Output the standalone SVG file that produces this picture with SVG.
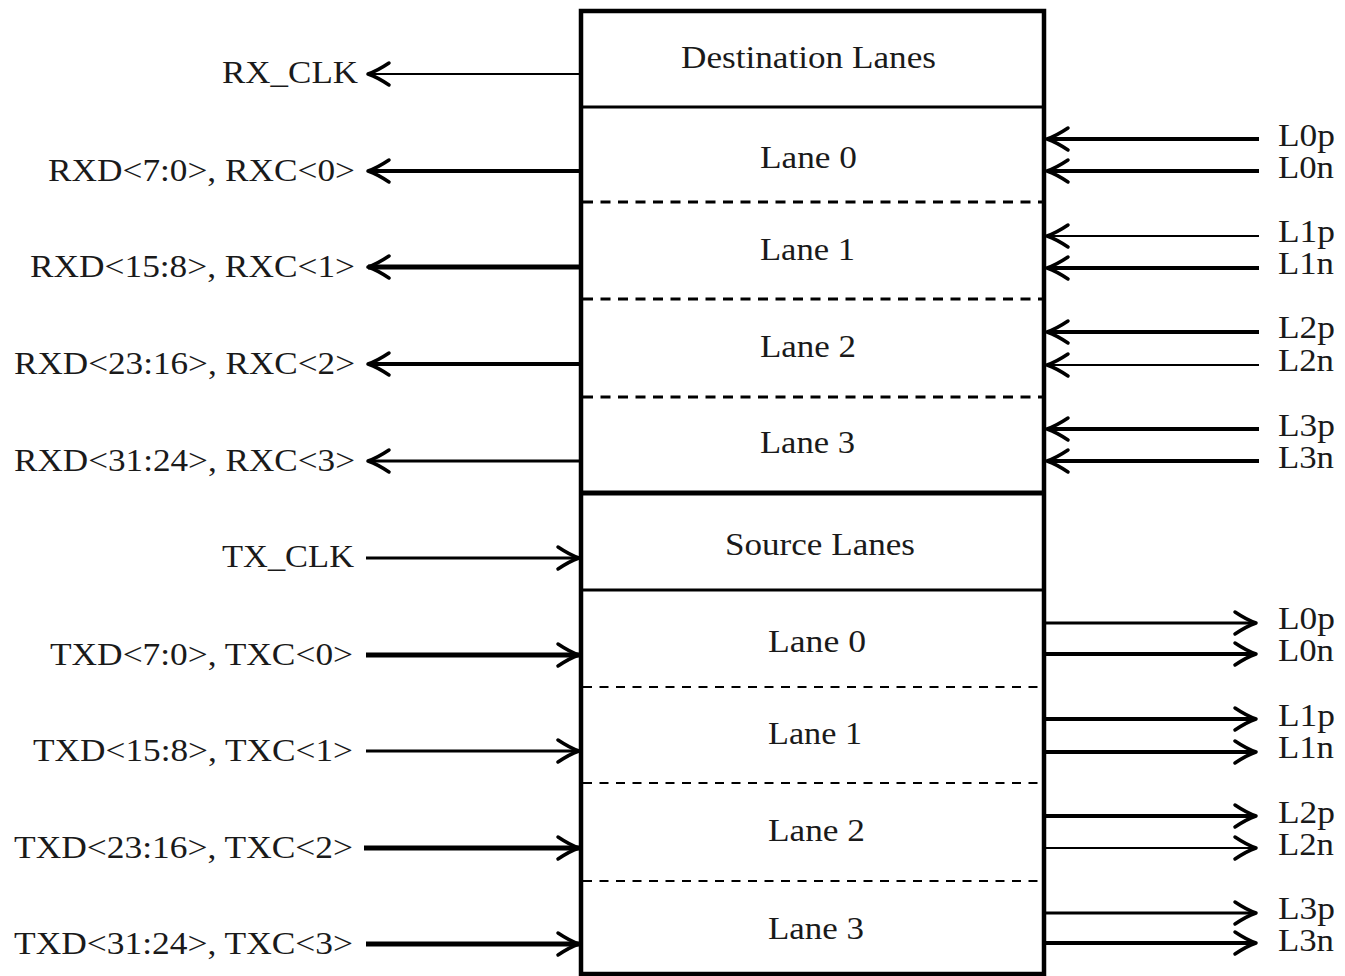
<svg xmlns="http://www.w3.org/2000/svg" width="1345" height="976" viewBox="0 0 1345 976">
  <style>
    text { font-family: "Liberation Serif", "Times New Roman", serif; font-size: 31px; fill: #1a1a1a; }
    .frame { fill: none; stroke: #000; stroke-width: 4.5; }
    .rule { stroke: #000; stroke-width: 3; }
    .rule-heavy { stroke: #000; stroke-width: 5; }
    .dash-dst { stroke: #000; stroke-width: 3; stroke-dasharray: 10 7.5; }
    .dash-src { stroke: #000; stroke-width: 2.2; stroke-dasharray: 9 7.5; }
    .wire { stroke: #000; fill: none; marker-end: url(#chevron); }
    .w2 { stroke-width: 2; }
    .w3 { stroke-width: 3; }
    .w4 { stroke-width: 4; }
    .w5 { stroke-width: 5; }
  </style>
  <defs>
    <marker id="chevron" markerUnits="userSpaceOnUse" markerWidth="30" markerHeight="30" viewBox="-26 -14 30 28" refX="0" refY="0" orient="auto">
      <path d="M-21,-11 Q-9,-3 0,0 Q-9,3 -21,11" fill="none" stroke="#000" stroke-width="3.5" stroke-linecap="round" stroke-linejoin="round"/>
    </marker>
  </defs>
  <rect width="1345" height="976" fill="#fff"/>

  <!-- receive side: destination lanes -->
  <g id="destination-block">
    <line class="rule" x1="581" y1="107" x2="1044" y2="107"/>
    <line class="dash-dst" x1="583" y1="202" x2="1042" y2="202"/>
    <line class="dash-dst" x1="583" y1="299" x2="1042" y2="299"/>
    <line class="dash-dst" x1="583" y1="397" x2="1042" y2="397"/>
    <text x="681" y="68" textLength="255" lengthAdjust="spacingAndGlyphs">Destination Lanes</text>
    <text x="760" y="168" textLength="97" lengthAdjust="spacingAndGlyphs">Lane 0</text>
    <text x="760" y="260" textLength="95" lengthAdjust="spacingAndGlyphs">Lane 1</text>
    <text x="760" y="357" textLength="96" lengthAdjust="spacingAndGlyphs">Lane 2</text>
    <text x="760" y="453" textLength="95" lengthAdjust="spacingAndGlyphs">Lane 3</text>
  </g>

  <!-- transmit side: source lanes -->
  <g id="source-block">
    <line class="rule-heavy" x1="581" y1="493" x2="1044" y2="493"/>
    <line class="rule" x1="581" y1="590" x2="1044" y2="590"/>
    <line class="dash-src" x1="583" y1="687" x2="1042" y2="687"/>
    <line class="dash-src" x1="583" y1="783" x2="1042" y2="783"/>
    <line class="dash-src" x1="583" y1="881" x2="1042" y2="881"/>
    <text x="725" y="555" textLength="190" lengthAdjust="spacingAndGlyphs">Source Lanes</text>
    <text x="768" y="652" textLength="98" lengthAdjust="spacingAndGlyphs">Lane 0</text>
    <text x="768" y="744" textLength="94" lengthAdjust="spacingAndGlyphs">Lane 1</text>
    <text x="768" y="841" textLength="97" lengthAdjust="spacingAndGlyphs">Lane 2</text>
    <text x="768" y="939" textLength="96" lengthAdjust="spacingAndGlyphs">Lane 3</text>
  </g>

  <!-- outer frame of the lane block -->
  <g id="lane-frame">
    <rect class="frame" x="581" y="11" width="463" height="963"/>
  </g>

  <!-- signal wires -->
  <g id="connectors">
    <!-- receive outputs, left -->
    <line class="wire w2" x1="579" y1="74" x2="368" y2="74"/>
    <line class="wire w4" x1="579" y1="171" x2="368" y2="171"/>
    <line class="wire w5" x1="579" y1="267" x2="368" y2="267"/>
    <line class="wire w4" x1="579" y1="364" x2="368" y2="364"/>
    <line class="wire w3" x1="579" y1="461" x2="368" y2="461"/>
    <!-- transmit inputs, left -->
    <line class="wire w3" x1="366" y1="558" x2="579" y2="558"/>
    <line class="wire w5" x1="366" y1="655" x2="579" y2="655"/>
    <line class="wire w3" x1="366" y1="751" x2="579" y2="751"/>
    <line class="wire w5" x1="364" y1="848" x2="579" y2="848"/>
    <line class="wire w5" x1="366" y1="944" x2="579" y2="944"/>
    <!-- serial inputs, right -->
    <line class="wire w4" x1="1259" y1="139" x2="1047" y2="139"/>
    <line class="wire w4" x1="1259" y1="171" x2="1047" y2="171"/>
    <line class="wire w2" x1="1259" y1="236" x2="1047" y2="236"/>
    <line class="wire w4" x1="1259" y1="268" x2="1047" y2="268"/>
    <line class="wire w4" x1="1259" y1="332" x2="1047" y2="332"/>
    <line class="wire w2" x1="1259" y1="365" x2="1047" y2="365"/>
    <line class="wire w4" x1="1259" y1="429" x2="1047" y2="429"/>
    <line class="wire w4" x1="1259" y1="461" x2="1047" y2="461"/>
    <!-- serial outputs, right -->
    <line class="wire w3" x1="1046" y1="623" x2="1256" y2="623"/>
    <line class="wire w4" x1="1046" y1="654" x2="1256" y2="654"/>
    <line class="wire w4" x1="1046" y1="719" x2="1256" y2="719"/>
    <line class="wire w4" x1="1046" y1="752" x2="1256" y2="752"/>
    <line class="wire w4" x1="1046" y1="816" x2="1256" y2="816"/>
    <line class="wire w2" x1="1046" y1="848" x2="1256" y2="848"/>
    <line class="wire w3" x1="1046" y1="913" x2="1256" y2="913"/>
    <line class="wire w4" x1="1046" y1="943" x2="1256" y2="943"/>
  </g>

  <!-- parallel interface names -->
  <g id="parallel-ports">
    <text x="222" y="83" textLength="136" lengthAdjust="spacingAndGlyphs">RX_CLK</text>
    <text x="48" y="181" textLength="307" lengthAdjust="spacingAndGlyphs">RXD&lt;7:0&gt;, RXC&lt;0&gt;</text>
    <text x="30" y="277" textLength="325" lengthAdjust="spacingAndGlyphs">RXD&lt;15:8&gt;, RXC&lt;1&gt;</text>
    <text x="14" y="374" textLength="341" lengthAdjust="spacingAndGlyphs">RXD&lt;23:16&gt;, RXC&lt;2&gt;</text>
    <text x="14" y="471" textLength="341" lengthAdjust="spacingAndGlyphs">RXD&lt;31:24&gt;, RXC&lt;3&gt;</text>
    <text x="222" y="567" textLength="132" lengthAdjust="spacingAndGlyphs">TX_CLK</text>
    <text x="50" y="665" textLength="303" lengthAdjust="spacingAndGlyphs">TXD&lt;7:0&gt;, TXC&lt;0&gt;</text>
    <text x="33" y="761" textLength="320" lengthAdjust="spacingAndGlyphs">TXD&lt;15:8&gt;, TXC&lt;1&gt;</text>
    <text x="14" y="858" textLength="339" lengthAdjust="spacingAndGlyphs">TXD&lt;23:16&gt;, TXC&lt;2&gt;</text>
    <text x="14" y="954" textLength="339" lengthAdjust="spacingAndGlyphs">TXD&lt;31:24&gt;, TXC&lt;3&gt;</text>
  </g>

  <!-- serial pin names -->
  <g id="serial-pins">
    <text x="1278" y="146" textLength="57" lengthAdjust="spacingAndGlyphs">L0p</text>
    <text x="1278" y="178" textLength="56" lengthAdjust="spacingAndGlyphs">L0n</text>
    <text x="1278" y="242" textLength="57" lengthAdjust="spacingAndGlyphs">L1p</text>
    <text x="1278" y="274" textLength="56" lengthAdjust="spacingAndGlyphs">L1n</text>
    <text x="1278" y="338" textLength="57" lengthAdjust="spacingAndGlyphs">L2p</text>
    <text x="1278" y="371" textLength="56" lengthAdjust="spacingAndGlyphs">L2n</text>
    <text x="1278" y="436" textLength="57" lengthAdjust="spacingAndGlyphs">L3p</text>
    <text x="1278" y="468" textLength="56" lengthAdjust="spacingAndGlyphs">L3n</text>
    <text x="1278" y="629" textLength="57" lengthAdjust="spacingAndGlyphs">L0p</text>
    <text x="1278" y="661" textLength="56" lengthAdjust="spacingAndGlyphs">L0n</text>
    <text x="1278" y="726" textLength="57" lengthAdjust="spacingAndGlyphs">L1p</text>
    <text x="1278" y="758" textLength="56" lengthAdjust="spacingAndGlyphs">L1n</text>
    <text x="1278" y="823" textLength="57" lengthAdjust="spacingAndGlyphs">L2p</text>
    <text x="1278" y="855" textLength="56" lengthAdjust="spacingAndGlyphs">L2n</text>
    <text x="1278" y="919" textLength="57" lengthAdjust="spacingAndGlyphs">L3p</text>
    <text x="1278" y="951" textLength="56" lengthAdjust="spacingAndGlyphs">L3n</text>
  </g>
</svg>
